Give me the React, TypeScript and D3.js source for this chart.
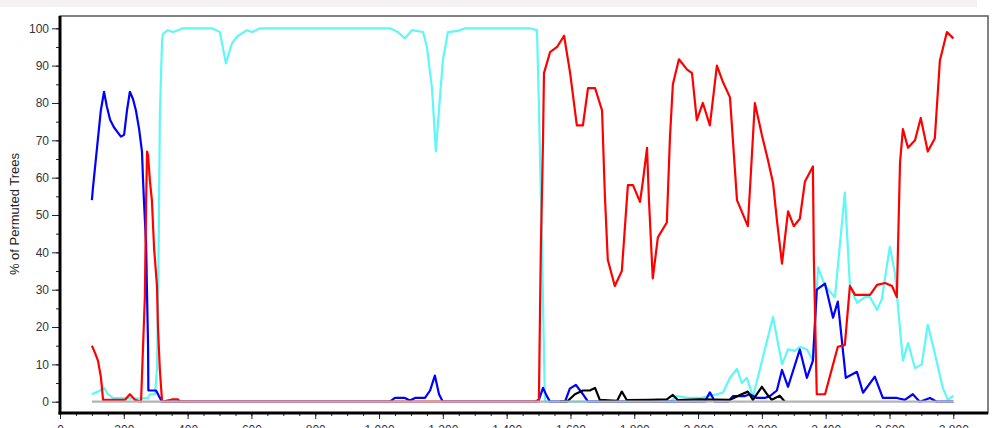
import { useEffect, useRef } from 'react'
import * as d3 from 'd3'

type Pt = [number, number]

// values: [position, % of permuted trees]
const blueSeries: Pt[] = [
  [100, 54], [103, 57], [116, 68], [128, 78], [138, 83], [147, 79], [157, 75.5], [169, 73.5],
  [182, 72], [191, 71], [201, 71.5], [210, 78], [219, 83], [229, 81], [238, 78], [248, 73],
  [257, 67], [260, 60], [263, 54], [270, 42], [273, 28], [276, 15], [277, 3], [291, 3],
  [301, 3], [310, 1.5], [320, 0], [1034, 0], [1050, 1], [1081, 1], [1097, 0.3], [1113, 1],
  [1144, 1], [1160, 3], [1175, 7], [1188, 2], [1200, 0], [1489, 0], [1501, 0.5], [1514, 3.7],
  [1526, 1.5], [1536, 0], [1583, 0], [1598, 3.5], [1617, 4.5], [1639, 2], [1655, 0], [2021, 0],
  [2037, 2.5], [2053, 0], [2094, 0], [2109, 1.5], [2147, 1.5], [2162, 2], [2184, 1], [2209, 1],
  [2225, 1.5], [2247, 3], [2263, 8.5], [2282, 4], [2319, 14], [2341, 6.4], [2360, 11], [2372, 30],
  [2398, 31.6], [2423, 22.5], [2438, 26.8], [2463, 6.4], [2498, 8], [2517, 2.4], [2554, 6.7],
  [2579, 1], [2623, 1], [2648, 0.5], [2673, 2], [2695, 0], [2727, 1], [2748, 0], [2800, 0],
]

const redSeries: Pt[] = [
  [100, 15], [110, 13], [119, 11], [128, 6.7], [135, 0.5], [204, 0.5], [219, 2], [235, 0.5],
  [254, 0], [260, 14], [266, 28], [270, 54], [273, 67], [276, 66], [282, 59], [288, 54],
  [295, 41], [304, 31], [307, 20], [313, 8.5], [320, 0], [351, 0.6], [370, 0.6], [376, 0],
  [1501, 0], [1507, 40], [1514, 70], [1517, 88], [1536, 93.6], [1558, 95], [1580, 98], [1599, 88],
  [1620, 74], [1639, 74], [1655, 84], [1677, 84], [1699, 78], [1708, 55], [1717, 38], [1739, 31],
  [1761, 35], [1780, 58], [1796, 58], [1818, 53.5], [1827, 59], [1840, 68], [1846, 54], [1858, 33],
  [1874, 44], [1902, 48], [1912, 71], [1921, 85], [1940, 91.7], [1965, 89], [1981, 88], [1996, 75.4],
  [2015, 80], [2037, 74], [2059, 90], [2078, 85.6], [2100, 81.5], [2122, 54], [2156, 47], [2178, 80],
  [2200, 71.4], [2219, 64.7], [2235, 58.6], [2247, 48.7], [2263, 37], [2282, 51], [2300, 47],
  [2319, 49], [2335, 59], [2360, 63], [2363, 38], [2372, 2], [2398, 2], [2438, 14.7], [2460, 15.2],
  [2476, 31], [2492, 28.6], [2539, 28.6], [2561, 31.3], [2586, 31.8], [2608, 31], [2623, 28],
  [2633, 64], [2642, 73], [2658, 68], [2680, 70], [2698, 76], [2720, 67], [2742, 70.5], [2758, 91.4],
  [2780, 99], [2800, 97.3],
]

const cyanSeries: Pt[] = [
  [100, 2], [119, 2.7], [138, 3.7], [150, 2], [166, 1], [251, 0.8], [276, 1], [282, 2],
  [298, 2], [304, 9], [307, 25], [310, 48], [313, 77], [320, 97], [323, 98.5], [338, 99.5],
  [354, 99], [370, 99.5], [385, 100], [476, 100], [501, 99], [520, 90.6], [539, 96], [558, 98],
  [586, 99.5], [602, 99], [627, 100], [1034, 100], [1059, 99], [1081, 97.3], [1103, 99.5],
  [1138, 99], [1150, 95], [1166, 84], [1178, 67], [1191, 81.5], [1200, 91.4], [1216, 99],
  [1247, 99.3], [1269, 100], [1473, 100], [1495, 99.5], [1501, 80], [1511, 40], [1520, 0],
  [1912, 0], [1934, 1.5], [1974, 1], [2006, 1], [2059, 2], [2078, 2.4], [2100, 6.4], [2122, 8.8],
  [2137, 5], [2153, 6.4], [2172, 1.3], [2235, 22.7], [2263, 10], [2282, 14], [2303, 13.6],
  [2319, 14.7], [2341, 14], [2360, 11], [2376, 36], [2398, 31], [2429, 28], [2460, 56],
  [2476, 31], [2498, 26.5], [2523, 28], [2539, 28], [2561, 24.6], [2576, 27.5], [2601, 41.5],
  [2617, 34.5], [2642, 11], [2658, 15.7], [2680, 9], [2701, 10], [2720, 20.6], [2742, 13],
  [2767, 3.7], [2783, 0.5], [2800, 1.6],
]

const blackSeries: Pt[] = [
  [1567, 0], [1589, 0], [1614, 2], [1639, 3], [1661, 3], [1677, 3.7], [1692, 0.5], [1746, 0.2],
  [1761, 2.7], [1777, 0.4], [1849, 0.5], [1902, 0.6], [1921, 1.8], [1937, 0.4], [2006, 0.6],
  [2100, 0.5], [2131, 1.8], [2156, 2.7], [2172, 0.5], [2200, 4], [2216, 2], [2231, 0.5],
  [2256, 1.6], [2272, 0],
]

const greySeries: Pt[] = [[100, 0], [2800, 0]]

const xTicks = d3.range(0, 2801, 200)
const xMinor = d3.range(0, 2801, 50)
const yTicks = d3.range(0, 101, 10)
const yMinor = d3.range(0, 101, 5)

const series = [
  { id: 'cyan', color: '#5ff7f7', data: cyanSeries },
  { id: 'blue', color: '#0000ff', data: blueSeries },
  { id: 'black', color: '#000000', data: blackSeries },
  { id: 'red', color: '#ff0000', data: redSeries },
  { id: 'grey', color: '#b4b4b4', data: greySeries },
]

const width = 1000
const height = 428
const frame = { left: 60, right: 988, top: 16, bottom: 413 }

export default function App() {
  const xAxisRef = useRef<SVGGElement | null>(null)
  const xMinorRef = useRef<SVGGElement | null>(null)
  const yAxisRef = useRef<SVGGElement | null>(null)
  const yMinorRef = useRef<SVGGElement | null>(null)

  const xScale = d3.scaleLinear().domain([0, 2800]).range([60, 953.3])
  const yScale = d3.scaleLinear().domain([0, 100]).range([401.7, 28.3])

  const line = d3
    .line<Pt>()
    .x((d) => xScale(d[0]))
    .y((d) => yScale(d[1]))

  useEffect(() => {
    if (!xAxisRef.current || !yAxisRef.current || !xMinorRef.current || !yMinorRef.current) return

    const xAxis = d3
      .axisBottom(xScale)
      .tickValues(xTicks)
      .tickSize(6)
      .tickPadding(6)
      .tickFormat((d) => d3.format(',')(d as number))
    d3.select(xAxisRef.current).call(xAxis)
    d3.select(xMinorRef.current).call(
      d3.axisBottom(xScale).tickValues(xMinor).tickSize(3).tickFormat(() => ''),
    )

    const yAxis = d3.axisLeft(yScale).tickValues(yTicks).tickSize(8).tickPadding(3)
    d3.select(yAxisRef.current).call(yAxis)
    d3.select(yMinorRef.current).call(
      d3.axisLeft(yScale).tickValues(yMinor).tickSize(4).tickFormat(() => ''),
    )

    for (const node of [xAxisRef.current, yAxisRef.current, xMinorRef.current, yMinorRef.current]) {
      const g = d3.select(node)
      g.select('.domain').remove()
      g.selectAll('line').attr('stroke', '#222').attr('stroke-width', 1)
      g.selectAll('text')
        .attr('fill', '#333344')
        .style('font-family', 'Arial, "Liberation Sans", sans-serif')
        .style('font-size', '12px')
    }
  }, [])

  return (
    <div style={{ position: 'fixed', left: 0, top: 0, width, height, background: '#fff' }}>
      <svg width={width} height={height} viewBox={`0 0 ${width} ${height}`}>
        <rect x={0} y={0} width={977} height={7} fill="#f3f1f2" />

        <rect
          x={frame.left}
          y={frame.top}
          width={frame.right - frame.left}
          height={frame.bottom - frame.top}
          fill="#fff"
          stroke="#5a5a5a"
          strokeWidth={1.5}
        />

        <g clipPath="url(#plotClip)">
          {series.map((s) => (
            <path
              key={s.id}
              d={line(s.data) ?? ''}
              fill="none"
              stroke={s.color}
              strokeWidth={2.2}
              strokeLinejoin="round"
            />
          ))}
        </g>
        <defs>
          <clipPath id="plotClip">
            <rect x={frame.left} y={frame.top} width={frame.right - frame.left} height={frame.bottom - frame.top} />
          </clipPath>
        </defs>

        <g ref={xMinorRef} transform={`translate(0, ${frame.bottom})`} />
        <g ref={xAxisRef} transform={`translate(0, ${frame.bottom})`} />
        <g ref={yMinorRef} transform={`translate(${frame.left}, 0)`} />
        <g ref={yAxisRef} transform={`translate(${frame.left}, 0)`} />

        <line x1={frame.left} x2={frame.left} y1={frame.top} y2={frame.bottom + 1.5} stroke="#000" strokeWidth={3} />
        <line x1={frame.left - 1.5} x2={frame.right} y1={frame.bottom} y2={frame.bottom} stroke="#000" strokeWidth={3} />

        <text
          transform={`translate(19 ${214}) rotate(-90)`}
          textAnchor="middle"
          fill="#222"
          style={{ fontFamily: 'Arial, "Liberation Sans", sans-serif', fontSize: 13 }}
        >
          % of Permuted Trees
        </text>
      </svg>
    </div>
  )
}
